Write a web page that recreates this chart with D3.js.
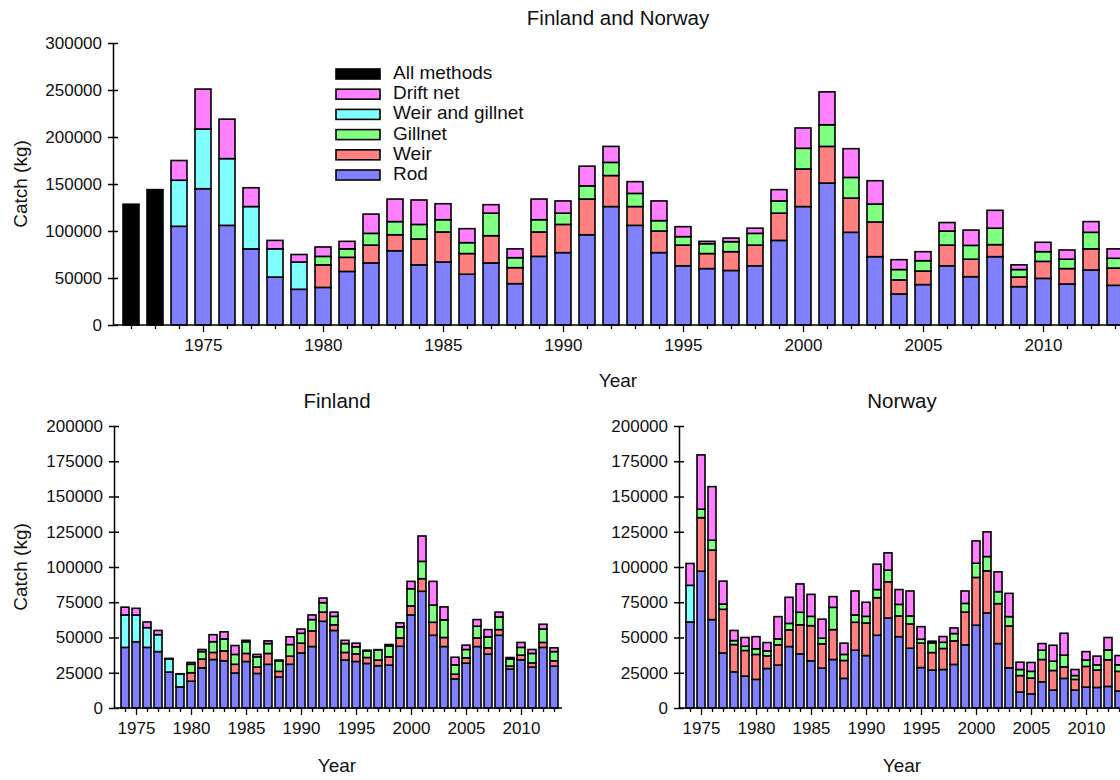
<!DOCTYPE html>
<html>
<head>
<meta charset="utf-8">
<script src="https://cdn.jsdelivr.net/npm/d3@7"></script>
<style>
  body { margin: 0; background: #fff; }
  svg { font-family: "Liberation Sans", Arial, sans-serif; }
</style>
</head>
<body>
<svg id="chart" width="1120" height="780"></svg>
<script>
// values in thousands of kg; null = no catch of that kind
const topYears = d3.range(1972, 2014);
const topAll = [128.5, 144].concat(Array(40).fill(null));
const topRod = [null, null, 105, 145, 106, 81, 51, 38, 40, 57, 66, 79, 64, 67, 54, 66, 44, 73, 77, 96, 126, 106, 77, 63, 60, 58, 63, 90, 126, 151, 98.6, 72.7, 33, 43, 63, 51.4, 72.7, 40.8, 49.6, 43.6, 58.5, 42.2];
const topWeir = [null, null, null, null, null, null, null, null, 24, 15, 19, 17, 27.5, 32, 22, 29, 17, 26, 30, 38, 33, 20, 23, 22, 16, 20, 22, 29, 40, 39, 36.4, 36.9, 15, 14.4, 22, 18.6, 12.8, 10.2, 18.1, 16.4, 22.5, 18.4];
const topGill = [null, null, null, null, null, null, null, null, 9, 9, 12.5, 14, 15.5, 13, 11.6, 24, 10.6, 13, 12, 14, 14, 14, 11, 9, 10.5, 10.6, 12.5, 13, 22, 23, 22, 19.1, 11, 11, 15, 14.7, 17.5, 8, 10.3, 10, 17.6, 10.4];
const topWG = [null, null, 49, 63.5, 71, 45, 30, 29].concat(Array(34).fill(null));
const topDrift = [null, null, 21, 42.5, 42, 20, 9, 8, 10, 8, 20.5, 24, 26, 17, 14.9, 9, 9.4, 22, 13, 21, 17, 12.5, 21, 10.6, 2.5, 3.9, 5.5, 12, 21.6, 35, 30.6, 24.8, 10.5, 9.6, 9, 16.3, 19, 5, 10, 9.8, 11.4, 10];

const years = d3.range(1974, 2014);
const finRod = [43, 47, 43, 40, 25.5, 15, 19, 28.5, 34.4, 33.5, 24.8, 33, 24.5, 31, 22, 31, 39, 43.6, 61.5, 55, 34, 33, 31.6, 30, 30.4, 43.8, 66, 82.8, 51.6, 43.6, 20.7, 31.8, 43.6, 38.2, 51.6, 27.6, 34.2, 29, 43, 29.7];
const finWeir = [null, null, null, null, null, null, 6, 6.2, 5, 7, 6.2, 5.7, 4.5, 7.7, 4, 5.8, 7, 11.1, 6.5, 4, 5.4, 5.4, 4.2, 4, 5.9, 5.9, 6.4, 8.9, 9.2, 6.4, 3.3, 3.8, 6.1, 4.5, 4, 2.1, 3.3, 3, 3.5, 3.8];
const finGill = [null, null, null, null, null, null, 6, 5.3, 7.6, 8.5, 7, 8.3, 7.3, 7, 7.5, 8.2, 7, 8, 6.7, 6, 6.3, 5, 4.7, 7, 7.7, 7.8, 12.2, 12.3, 12.2, 12.5, 6.6, 5.9, 8.3, 7.8, 9, 5, 5.5, 6.7, 9.5, 6.5];
const finWG = [23, 19, 14, 12, 9.2, 9].concat(Array(34).fill(null));
const finDrift = [5.5, 4.7, 4, 3, 0.5, 0.3, 1.3, 1.5, 5, 5, 6.3, 1, 1.7, 1.9, 0.5, 5.5, 3, 3.3, 3.3, 3, 2.3, 2.6, 0.5, 0.4, 1, 2.9, 5.2, 18, 16.8, 9.2, 5.4, 3.1, 4.7, 5.1, 3.4, 1.1, 3.5, 2.8, 3.4, 2.7];

const norRod = [61, 97, 62.7, 39, 25.7, 22.6, 20.3, 28, 30.4, 43.6, 38.4, 33.5, 28.3, 34.4, 21, 41, 37.2, 51.6, 63.8, 50.6, 42.4, 28.7, 26.9, 27.3, 30.9, 44.8, 58.7, 67.4, 45.7, 28.5, 11.3, 10, 18.6, 12.7, 21, 12.7, 14.8, 14.6, 15.3, 12];
const norWeir = [null, 38, 49.3, 31, 19.3, 18.2, 17.7, 9, 14.4, 11.8, 20.6, 24.9, 17.2, 21.2, 12.7, 19.8, 23.1, 26.6, 25.7, 14.7, 17.2, 17.3, 12.4, 14.9, 16.7, 23.2, 33.9, 29.9, 28.3, 29.7, 11.7, 11.2, 15.8, 13.9, 8.2, 7.6, 14.7, 12.3, 18.9, 14];
const norGill = [null, 6, 7, 3.7, 2.8, 3, 4, 3.5, 4.2, 4.6, 8.9, 6.6, 4, 15.8, 4.3, 5.2, 4.7, 5.8, 8.3, 8.2, 5.7, 2.8, 6.9, 4.4, 5.2, 6.2, 10.1, 10.1, 8.5, 6.6, 4.3, 4.8, 6.6, 6.6, 8.3, 2.7, 4.5, 3.7, 7, 4.6];
const norWG = [26].concat(Array(39).fill(null));
const norDrift = [15.5, 38.5, 38, 16.3, 7.2, 6.2, 8.6, 5.9, 15.8, 18.5, 20.1, 15.6, 13.5, 7.6, 8, 17, 10, 18, 12.2, 10.5, 17.7, 8.9, 1.2, 4.1, 4, 8.8, 15.8, 17.5, 14.1, 16.5, 5.2, 6.3, 4.7, 11.3, 15.5, 4.3, 6, 6.2, 8.8, 6.6];

const methodColors = {
    "All methods": "#000000",
    "Drift net": "#ff80ff",
    "Weir and gillnet": "#80ffff",
    "Gillnet": "#80ff80",
    "Weir": "#ff8080",
    "Rod": "#8080ff"
};
const legendOrder = ["All methods", "Drift net", "Weir and gillnet", "Gillnet", "Weir", "Rod"];

const svg = d3.select("#chart");

function drawPanel(cfg) {
    const g = svg.append("g");
    const x = d3.scaleLinear().domain([cfg.years[0], cfg.years[cfg.years.length - 1]]).range(cfg.xRange);
    const y = d3.scaleLinear().domain([0, cfg.yMax]).range([cfg.y0, cfg.yTop]);

    // stack bottom to top
    cfg.years.forEach((yr, i) => {
        let base = 0;
        cfg.series.forEach(s => {
            const v = s.values[i];
            if (v == null) return;
            g.append("rect")
                .attr("x", x(yr) - cfg.barW / 2)
                .attr("width", cfg.barW)
                .attr("y", y(base + v))
                .attr("height", y(base) - y(base + v))
                .attr("fill", methodColors[s.name])
                .attr("stroke", "#000")
                .attr("stroke-width", 1.6);
            base += v;
        });
    });

    // y axis
    const ya = g.append("g").attr("transform", `translate(${cfg.axisX},0)`)
        .call(d3.axisLeft(y).tickValues(d3.range(0, cfg.yMax + 0.01, cfg.yStep))
            .tickFormat(d => d3.format("d")(d * 1000)).tickSize(5).tickSizeOuter(0).tickPadding(6));
    ya.selectAll(".tick line").attr("x2", 5).attr("x1", -5);
    ya.select(".domain").attr("stroke-width", 1.5);
    ya.selectAll("line").attr("stroke-width", 1.5);
    ya.selectAll("text").attr("font-size", 17).attr("fill", "#111").attr("font-family", null);

    // x axis
    const xa = g.append("g").attr("transform", `translate(0,${cfg.y0})`)
        .call(d3.axisBottom(x).tickValues(cfg.years)
            .tickFormat(d => d % 5 === 0 ? d : "").tickSize(4).tickSizeOuter(0).tickPadding(10));
    xa.select(".domain").attr("d", `M${cfg.axisX},0H${cfg.axisEnd}`).attr("stroke-width", 1.5);
    xa.selectAll(".tick line").attr("y2", d => d % 5 === 0 ? 7 : 4).attr("stroke-width", 1.3);
    xa.selectAll("text").attr("font-size", 17).attr("fill", "#111").attr("font-family", null);

    g.append("text").attr("x", cfg.titleX).attr("y", cfg.titleY).attr("text-anchor", "middle")
        .attr("dominant-baseline", "middle").attr("font-size", 20.5).attr("fill", "#111").text(cfg.title);
    g.append("text").attr("x", cfg.titleX).attr("y", cfg.xLabelY).attr("text-anchor", "middle")
        .attr("dominant-baseline", "middle").attr("font-size", 19).attr("fill", "#111").text("Year");
    if (cfg.yLabel) {
        g.append("text").attr("transform", `translate(22,${cfg.yLabelY}) rotate(-90)`)
            .attr("text-anchor", "middle").attr("dominant-baseline", "middle")
            .attr("font-size", 19).attr("fill", "#111").text("Catch (kg)");
    }
}

drawPanel({
    title: "Finland and Norway", titleX: 618, titleY: 20, xLabelY: 382, yLabel: true, yLabelY: 184,
    years: topYears, xRange: [131, 1115], barW: 16, axisX: 113, axisEnd: 1130,
    y0: 325, yTop: 43, yMax: 300, yStep: 50,
    series: [
        { name: "All methods", values: topAll },
        { name: "Rod", values: topRod },
        { name: "Weir", values: topWeir },
        { name: "Gillnet", values: topGill },
        { name: "Weir and gillnet", values: topWG },
        { name: "Drift net", values: topDrift }
    ]
});

drawPanel({
    title: "Finland", titleX: 337, titleY: 403, xLabelY: 767, yLabel: true, yLabelY: 567,
    years: years, xRange: [125, 554], barW: 8, axisX: 114, axisEnd: 562,
    y0: 708, yTop: 426, yMax: 200, yStep: 25,
    series: [
        { name: "Rod", values: finRod },
        { name: "Weir", values: finWeir },
        { name: "Gillnet", values: finGill },
        { name: "Weir and gillnet", values: finWG },
        { name: "Drift net", values: finDrift }
    ]
});

drawPanel({
    title: "Norway", titleX: 902, titleY: 403, xLabelY: 767, yLabel: false,
    years: years, xRange: [690, 1119], barW: 8, axisX: 679, axisEnd: 1130,
    y0: 708, yTop: 426, yMax: 200, yStep: 25,
    series: [
        { name: "Rod", values: norRod },
        { name: "Weir", values: norWeir },
        { name: "Gillnet", values: norGill },
        { name: "Weir and gillnet", values: norWG },
        { name: "Drift net", values: norDrift }
    ]
});

// legend
const legend = svg.append("g");
legendOrder.forEach((name, i) => {
    const ly = 74 + i * 20.2;
    legend.append("rect").attr("x", 336).attr("y", ly - 5).attr("width", 44).attr("height", 10)
        .attr("fill", methodColors[name]).attr("stroke", "#000").attr("stroke-width", 1.6);
    legend.append("text").attr("x", 393).attr("y", ly).attr("dominant-baseline", "middle")
        .attr("font-size", 19).attr("fill", "#111").text(name);
});
</script>
</body>
</html>
